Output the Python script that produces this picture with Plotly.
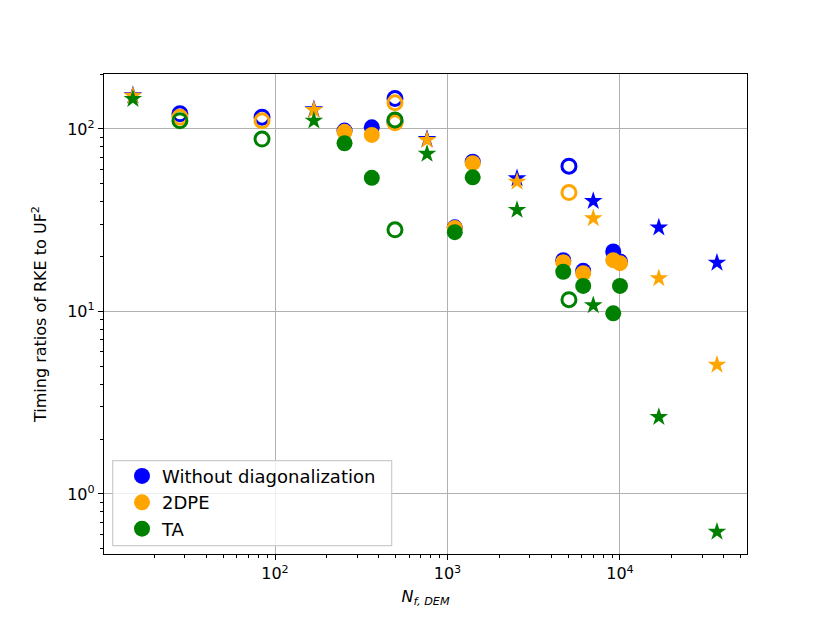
import numpy as np
import plotly.graph_objects as go

# series colours / names
names = ["Without diagonalization", "2DPE", "TA"]
colors = ["blue", "orange", "green"]

# filled circles
x_fill = [253, 364, 1102, 1400, 4690, 6120, 9140, 10000]
blue_fill = [98, 102, 28.9, 66.2, 19.1, 16.7, 21.3, 18.8]
orange_fill = [96.4, 92.7, 28.7, 64.9, 18.6, 16.2, 19.1, 18.4]
green_fill = [83.5, 54, 27.2, 54.3, 16.5, 13.8, 9.77, 13.8]

# open circles
x_open = [28.1, 84.1, 496, 496, 5060]
blue_open = [121, 116, 147, 109, 62.5]
orange_open = [116, 111, 139, 108, 44.8]
green_open = [111, 88, 112, 28, 11.6]

# stars
x_star = [15.0, 168, 761, 2530, 7000, 16800, 36500]
blue_star = [153, 128, 88, 53.7, 40.3, 28.8, 18.5]
orange_star = [152, 127, 87, 51.4, 32.4, 15.2, 5.1]
green_star = [146, 111, 73, 36, 10.8, 2.64, 0.62]

fills = [blue_fill, orange_fill, green_fill]
opens = [blue_open, orange_open, green_open]
stars = [blue_star, orange_star, green_star]

fig = go.Figure()
for i in range(3):
    c = colors[i]
    fig.add_trace(go.Scatter(x=x_fill, y=fills[i], mode="markers", name=names[i],
                             marker=dict(symbol="circle", size=16, color=c, line=dict(width=0))))
    fig.add_trace(go.Scatter(x=x_open, y=opens[i], mode="markers", showlegend=False,
                             marker=dict(symbol="circle-open", size=14, color=c, line=dict(width=3, color=c))))
    fig.add_trace(go.Scatter(x=x_star, y=stars[i], mode="markers", showlegend=False,
                             marker=dict(symbol="star", size=14, color=c, line=dict(width=0))))

def minors(lo, hi):
    out = []
    for d in range(lo, hi):
        for m in range(2, 10):
            out.append(m * 10.0 ** d)
    return out

font = dict(family="DejaVu Sans", size=16, color="black")
fig.update_xaxes(type="log", range=[np.log10(10.2), np.log10(54500)],
                 tickvals=[100, 1000, 10000], ticktext=["10<sup>2</sup>", "10<sup>3</sup>", "10<sup>4</sup>"],
                 ticks="outside", ticklen=5, tickwidth=1.2, tickcolor="black",
                 minor=dict(tickvals=minors(1, 5), ticks="outside", ticklen=3, tickwidth=1, tickcolor="black", showgrid=False),
                 showgrid=True, gridcolor="#b0b0b0", gridwidth=1.3,
                 showline=True, linecolor="black", linewidth=1.3, mirror=True,
                 tickfont=font, zeroline=False,
                 title=dict(text="<i>N</i><sub><i>f, DEM</i></sub>", font=font, standoff=8))
fig.update_yaxes(type="log", range=[np.log10(0.469), np.log10(200)],
                 tickvals=[1, 10, 100], ticktext=["10<sup>0</sup>", "10<sup>1</sup>", "10<sup>2</sup>"],
                 ticks="outside", ticklen=5, tickwidth=1.2, tickcolor="black",
                 minor=dict(tickvals=minors(-1, 3), ticks="outside", ticklen=3, tickwidth=1, tickcolor="black", showgrid=False),
                 showgrid=True, gridcolor="#b0b0b0", gridwidth=1.3,
                 showline=True, linecolor="black", linewidth=1.3, mirror=True,
                 tickfont=font, zeroline=False,
                 title=dict(text="Timing ratios of RKE to UF<sup>2</sup>", font=font, standoff=16))

# legend frame (matplotlib style, semi-transparent)
fig.add_shape(type="rect", xref="paper", yref="paper", x0=0.0135, x1=0.4474, y0=0.0173, y1=0.1944,
              line=dict(color="#cccccc", width=1.2), fillcolor="rgba(255,255,255,0.8)", layer="above")

fig.update_layout(
    width=822, height=615,
    margin=dict(l=96, r=83, t=66, b=69),
    paper_bgcolor="white", plot_bgcolor="white",
    font=font,
    legend=dict(x=0.028, y=0.2006, xanchor="left", yanchor="top",
                bgcolor="rgba(0,0,0,0)", borderwidth=0,
                font=dict(family="DejaVu Sans", size=18, color="black")),
)

fig.write_html("out.html")
